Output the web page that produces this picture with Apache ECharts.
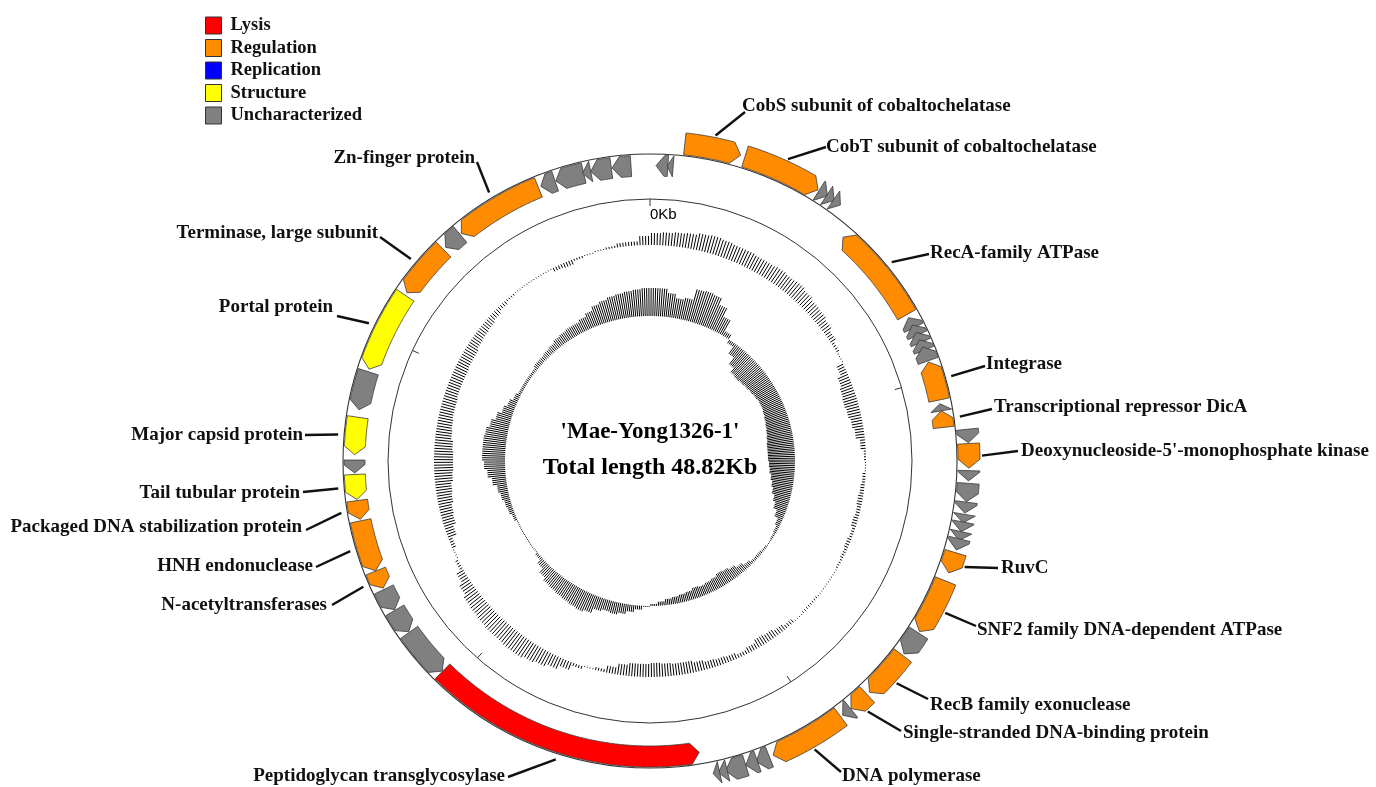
<!DOCTYPE html>
<html>
<head>
<meta charset="utf-8">
<title>Mae-Yong1326-1 genome map</title>
<script src="https://cdn.jsdelivr.net/npm/echarts@6/dist/echarts.min.js"></script>
<style>
html, body { margin: 0; padding: 0; background: #fff; }
#main { width: 1376px; height: 787px; }
</style>
</head>
<body>
<div id="main"></div>
<script>
var genomeLength = 48.82;   // kb
var tickKb = [0, 10, 20, 30, 40];
var tickLabels = ['0Kb', '', '', '', ''];

var categories = ['Lysis', 'Regulation', 'Replication', 'Structure', 'Uncharacterized'];
var categoryColors = ['#ff0000', '#ff8c00', '#0000ff', '#ffff00', '#808080'];

// genes (kb), strand: 1 = forward, -1 = reverse; category index into categories
var geneStart = [0.16, 0.45, 0.85, 2.35, 4.34, 4.56, 4.76, 5.53, 8.27, 8.49,
                 8.71, 8.92, 9.13, 9.55, 10.69, 10.88, 11.43, 11.78, 12.44, 12.75,
                 13.21, 13.51, 13.70, 13.94, 14.12, 14.47, 15.20, 16.63, 17.30, 18.59,
                 19.12, 19.43, 21.43, 21.74, 22.04, 22.51, 22.70, 23.11, 30.47, 31.83,
                 32.52, 33.16, 33.66, 35.07, 35.60, 36.30, 36.78, 37.97, 39.07, 41.32,
                 42.89, 43.44, 45.88, 46.30, 47.03, 47.25, 47.82];
var geneEnd = [0.47, 0.61, 2.24, 4.31, 4.58, 4.78, 4.97, 8.18, 8.57, 8.79,
               9.00, 9.22, 9.52, 10.59, 10.88, 11.32, 11.76, 12.38, 12.69, 13.20,
               13.48, 13.72, 13.94, 14.16, 14.40, 14.99, 16.59, 17.25, 18.51, 19.11,
               19.37, 21.33, 21.77, 22.04, 22.55, 22.73, 22.86, 30.46, 31.81, 32.50,
               33.12, 33.65, 35.03, 35.57, 36.26, 36.64, 37.77, 39.00, 41.24, 42.81,
               43.40, 45.81, 46.28, 47.06, 47.25, 47.80, 48.32];
var geneStrand = [-1, -1, 1, 1, 1, 1, 1, -1, -1, -1,
                  -1, -1, -1, -1, -1, -1, 1, 1, 1, 1,
                  1, 1, 1, 1, 1, 1, 1, 1, 1, 1,
                  1, 1, 1, 1, 1, 1, 1, -1, -1, -1,
                  -1, -1, -1, -1, -1, -1, -1, -1, -1, -1,
                  -1, -1, -1, -1, -1, -1, -1];
var geneCategory = [4, 4, 1, 1, 4, 4, 4, 1, 4, 4,
                    4, 4, 4, 1, 4, 1, 4, 1, 4, 4,
                    4, 4, 4, 4, 4, 1, 1, 4, 1, 1,
                    4, 1, 4, 4, 4, 4, 4, 0, 4, 4,
                    4, 1, 1, 1, 3, 4, 3, 4, 3, 1,
                    4, 1, 4, 4, 4, 4, 4];
var geneName = ['', '', 'CobS subunit of cobaltochelatase', 'CobT subunit of cobaltochelatase', '', '', '', 'RecA-family ATPase', '', '',
                '', '', '', 'Integrase', '', 'Transcriptional repressor DicA', '', "Deoxynucleoside-5'-monophosphate kinase", '', '',
                '', '', '', '', '', 'RuvC', 'SNF2 family DNA-dependent ATPase', '', 'RecB family exonuclease', 'Single-stranded DNA-binding protein',
                '', 'DNA polymerase', '', '', '', '', '', 'Peptidoglycan transglycosylase', '', '',
                '', 'N-acetyltransferases', 'HNH endonuclease', 'Packaged DNA stabilization protein', 'Tail tubular protein', '', 'Major capsid protein', '', 'Portal protein', 'Terminase, large subunit',
                '', 'Zn-finger protein', '', '', '', '', ''];

// 120 windows around the genome
// GC content: deviation from the mean, %
var gcContent = [6, 6.5, 7, 7.5, 8.5, 9, 8.5, 8, 8, 7.5,
                 7.5, 8, 7.5, 8, 7, 6, 5.5, 4.5, 3, 1.5,
                 0.5, -3.5, -5.5, -6.5, -7, -6.5, -5.5, -4.5, -2.5, -1,
                 -0.5, -1.5, -2, -2.5, -2, -2.5, -1.5, -2, -1.5, -1,
                 -0.5, -0.5, -0.5, -1, -1, -0.5, -2, -3, -4, -4.5,
                 -3, -2, -3, -3.5, -4, -5, -6, -6, -6.5, -7,
                 -6.5, -6.5, -5.5, -3.5, -1.5, -0.5, 1.5, 4, 6, 7.5,
                 8.5, 9.5, 9.5, 9, 9, 8.5, 8, 7.5, 6, 4,
                 1.5, -0.5, -2, -4.5, -6, -6.5, -7.5, -8, -9, -9.5,
                 -9.5, -9, -8, -7.5, -7, -7, -6.5, -6.5, -6.5, -6,
                 -6, -5, -4.5, -4, -3, -2, -1, -0.5, -0.5, -0.5,
                 -0.5, -2, -2.5, -1, -0.5, 0.5, 1, 2, 2, 4.5];
// GC skew (G-C)/(G+C)
var gcSkew = [0.28, 0.28, 0.24, 0.20, 0.22, 0.33, 0.34, 0.33, 0.26, 0.17,
              0.05, -0.04, -0.12, -0.20, -0.25, -0.26, -0.25, -0.24, -0.23, -0.22,
              -0.21, -0.21, -0.22, -0.23, -0.24, -0.25, -0.26, -0.27, -0.27, -0.27,
              -0.26, -0.25, -0.23, -0.21, -0.19, -0.16, -0.13, -0.09, -0.05, -0.03,
              -0.02, -0.01, -0.02, -0.03, -0.03, -0.05, -0.08, -0.11, -0.13, -0.14,
              -0.12, -0.11, -0.10, -0.11, -0.09, -0.08, -0.07, -0.06, -0.04, -0.02,
              0.01, 0.04, 0.07, 0.10, 0.12, 0.11, 0.13, 0.18, 0.20, 0.19,
              0.18, 0.17, 0.16, 0.15, 0.12, 0.07, 0.03, 0.01, 0.01, 0.01,
              0.01, 0.01, 0.03, 0.05, 0.06, 0.08, 0.10, 0.14, 0.18, 0.21,
              0.23, 0.23, 0.23, 0.22, 0.19, 0.15, 0.11, 0.08, 0.05, 0.03,
              0.03, 0.03, 0.03, 0.05, 0.05, 0.06, 0.07, 0.09, 0.10, 0.11,
              0.11, 0.13, 0.16, 0.20, 0.22, 0.24, 0.25, 0.26, 0.27, 0.28];

var mapName = "'Mae-Yong1326-1'";
var mapLength = 'Total length 48.82Kb';

// layout (pixels / track radii)
var OUTER_R = 307, INNER_R = 262;
var FWD_R = [308, 330], REV_R = [285, 306];
var CONTENT_BASE = 216, CONTENT_SCALE = 2;
var SKEW_BASE = 145, SKEW_SCALE = 100;
var HATCH = 4;   // hatch lines per window
var HEAD_KB = 0.22;
var LABEL_FONT = 'bold 19px "Liberation Serif"';

// label text position, align, leader end
var labelLayout = {
    'CobS subunit of cobaltochelatase': [742, 106, 'left', 745, 112],
    'CobT subunit of cobaltochelatase': [826, 147, 'left', 826, 147],
    'RecA-family ATPase': [930, 253, 'left', 929, 254],
    'Integrase': [986, 364, 'left', 985, 366],
    'Transcriptional repressor DicA': [994, 407, 'left', 992, 409],
    "Deoxynucleoside-5'-monophosphate kinase": [1021, 451, 'left', 1018, 451],
    'RuvC': [1001, 568, 'left', 998, 568],
    'SNF2 family DNA-dependent ATPase': [977, 630, 'left', 976, 626],
    'RecB family exonuclease': [930, 705, 'left', 928, 699],
    'Single-stranded DNA-binding protein': [903, 733, 'left', 901, 731],
    'DNA polymerase': [842, 776, 'left', 841, 772],
    'Zn-finger protein': [475, 158, 'right', 477, 162],
    'Terminase, large subunit': [378, 233, 'right', 380, 237],
    'Portal protein': [333, 307, 'right', 337, 316],
    'Major capsid protein': [303, 435, 'right', 305, 435],
    'Tail tubular protein': [300, 493, 'right', 303, 492],
    'Packaged DNA stabilization protein': [302, 527, 'right', 306, 530],
    'HNH endonuclease': [313, 566, 'right', 316, 567],
    'N-acetyltransferases': [327, 605, 'right', 332, 605],
    'Peptidoglycan transglycosylase': [505, 776, 'right', 508, 777]
};

var chart = echarts.init(document.getElementById('main'));

function arcPoints(api, r, a0, a1, n) {
    var pts = [];
    for (var k = 0; k <= n; k++) {
        pts.push(api.coord([r, a0 + (a1 - a0) * k / n]));
    }
    return pts;
}

function renderGene(params, api) {
    var i = api.value(2);
    var s = geneStart[i], e = geneEnd[i], fwd = geneStrand[i] > 0;
    var r = fwd ? FWD_R : REV_R;
    var rm = (r[0] + r[1]) / 2;
    var head = Math.min(e - s, HEAD_KB);
    var n = Math.max(2, Math.ceil((e - s) / 0.04));
    var pts, b;
    if (fwd) {
        b = e - head;
        pts = arcPoints(api, r[1], s, b, n).concat([api.coord([rm, e])], arcPoints(api, r[0], b, s, n));
    } else {
        b = s + head;
        pts = [api.coord([rm, s])].concat(arcPoints(api, r[1], b, e, n), arcPoints(api, r[0], e, b, n));
    }
    var children = [{
        type: 'polygon',
        shape: { points: pts },
        style: { fill: categoryColors[geneCategory[i]], stroke: '#3a3a3a', lineWidth: 0.8 }
    }];
    var L = labelLayout[geneName[i]];
    if (L) {
        var g = api.coord([fwd ? 332 : 313, (s + e) / 2]);
        children.push({
            type: 'line',
            shape: { x1: g[0], y1: g[1], x2: L[3], y2: L[4] },
            style: { stroke: '#111', lineWidth: 2.4 }
        });
        children.push({
            type: 'text',
            x: L[0], y: L[1],
            style: { text: geneName[i], align: L[2], verticalAlign: 'middle', font: LABEL_FONT, fill: '#111' }
        });
    }
    return { type: 'group', children: children };
}

function makeRingRender(values, base, scale) {
    var win = genomeLength / values.length;
    return function (params, api) {
        var i = api.value(2);
        var v = values[i];
        var lines = [];
        for (var j = 0; j < HATCH; j++) {
            var a = i * win + (j + 0.5) * win / HATCH;
            var p0 = api.coord([base, a]);
            var p1 = api.coord([base + v * scale, a]);
            lines.push({
                type: 'line',
                shape: { x1: p0[0], y1: p0[1], x2: p1[0], y2: p1[1] },
                style: { stroke: '#000', lineWidth: 1 }
            });
        }
        return { type: 'group', children: lines };
    };
}

function renderBackbone(params, api) {
    var c = api.coord([0, 0]);
    var children = [
        { type: 'circle', shape: { cx: c[0], cy: c[1], r: OUTER_R }, style: { fill: null, stroke: '#333', lineWidth: 1.1 } },
        { type: 'circle', shape: { cx: c[0], cy: c[1], r: INNER_R }, style: { fill: null, stroke: '#333', lineWidth: 1 } }
    ];
    tickKb.forEach(function (t, k) {
        var p0 = api.coord([INNER_R, t]);
        var p1 = api.coord([INNER_R - 7, t]);
        children.push({ type: 'line', shape: { x1: p0[0], y1: p0[1], x2: p1[0], y2: p1[1] }, style: { stroke: '#333', lineWidth: 1 } });
        if (tickLabels[k]) {
            var p2 = api.coord([INNER_R - 16, t]);
            children.push({
                type: 'text', x: p2[0], y: p2[1],
                style: { text: tickLabels[k], align: 'left', verticalAlign: 'middle', font: '15px "Liberation Sans"', fill: '#000' }
            });
        }
    });
    children.push({
        type: 'text', x: c[0], y: c[1] - 29,
        style: { text: mapName, align: 'center', verticalAlign: 'middle', font: 'bold 23px "Liberation Serif"', fill: '#000' }
    });
    children.push({
        type: 'text', x: c[0], y: c[1] + 7,
        style: { text: mapLength, align: 'center', verticalAlign: 'middle', font: 'bold 24px "Liberation Serif"', fill: '#000' }
    });
    return { type: 'group', children: children };
}

var series = [
    { type: 'custom', name: 'backbone', coordinateSystem: 'polar', z: 1, silent: true,
      renderItem: renderBackbone, data: [[0, 0, 0]] },
    { type: 'custom', name: 'GC content', coordinateSystem: 'polar', z: 2, silent: true,
      renderItem: makeRingRender(gcContent, CONTENT_BASE, CONTENT_SCALE),
      data: gcContent.map(function (v, i) { return [CONTENT_BASE, i * genomeLength / gcContent.length, i]; }) },
    { type: 'custom', name: 'GC skew', coordinateSystem: 'polar', z: 2, silent: true,
      renderItem: makeRingRender(gcSkew, SKEW_BASE, SKEW_SCALE),
      data: gcSkew.map(function (v, i) { return [SKEW_BASE, i * genomeLength / gcSkew.length, i]; }) }
];

categories.forEach(function (cat, c) {
    var data = [];
    for (var i = 0; i < geneStart.length; i++) {
        if (geneCategory[i] === c) {
            data.push([OUTER_R, (geneStart[i] + geneEnd[i]) / 2, i]);
        }
    }
    series.push({
        type: 'custom', name: cat, coordinateSystem: 'polar', z: 3,
        color: categoryColors[c],
        itemStyle: { color: categoryColors[c] },
        renderItem: renderGene,
        data: data
    });
});

var option = {
    animation: false,
    backgroundColor: '#fff',
    polar: { center: [650, 461], radius: 340 },
    angleAxis: { type: 'value', min: 0, max: genomeLength, startAngle: 90, clockwise: true, show: false },
    radiusAxis: { type: 'value', min: 0, max: 340, show: false },
    legend: {
        data: categories,
        orient: 'vertical',
        left: 200, top: 11,
        itemWidth: 16, itemHeight: 17, itemGap: 3.5,
        icon: 'rect',
        itemStyle: { borderColor: '#333', borderWidth: 1 },
        textStyle: { fontFamily: 'Liberation Serif', fontWeight: 'bold', fontSize: 18.5, color: '#111', lineHeight: 17, padding: [0, 0, 0, 4] }
    },
    series: series
};

chart.setOption(option);

window.onresize = function () {
    chart.resize();
};
</script>
</body>
</html>
